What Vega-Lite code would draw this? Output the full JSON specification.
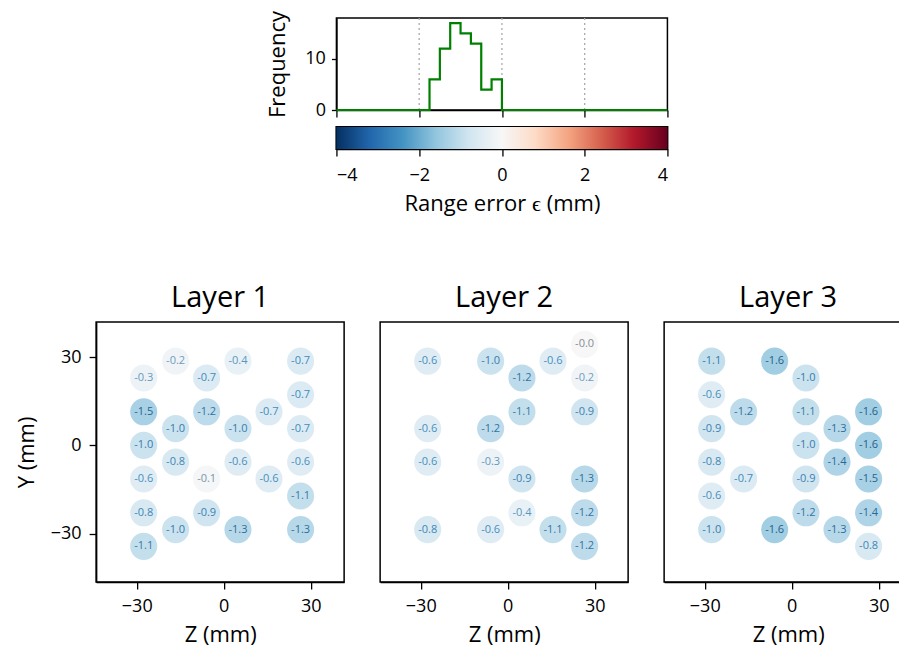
{
  "$schema": "https://vega.github.io/schema/vega-lite/v6.json",
  "padding": {"left": 14, "top": 9, "right": 0, "bottom": 0},
  "background": "white",
  "config": {
    "font": "Open Sans",
    "locale": {"number": {"decimal": ".", "thousands": ",", "grouping": [3], "currency": ["$", ""], "minus": "-"}},
    "view": {"stroke": "black", "strokeWidth": 1.5},
    "axis": {"labelFontSize": 18, "titleFontSize": 22, "labelColor": "black", "titleColor": "black", "titleFontWeight": "normal", "tickColor": "black", "domainColor": "black", "tickSize": 7, "tickWidth": 1.3, "domainWidth": 1.5, "labelPadding": 8, "grid": false, "labelFont": "Open Sans", "titleFont": "Open Sans"},
    "title": {"fontSize": 29, "fontWeight": "normal", "color": "black", "font": "Open Sans", "offset": 9}
  },
  "datasets": {
    "hist": [
      {"x": -4, "n": 0}, {"x": -1.75, "n": 6}, {"x": -1.5, "n": 12}, {"x": -1.25, "n": 17}, {"x": -1.0, "n": 15},
      {"x": -0.75, "n": 13}, {"x": -0.5, "n": 4}, {"x": -0.25, "n": 6}, {"x": 0, "n": 0}, {"x": 4, "n": 0}
    ],
    "grid": [{"x": -2}, {"x": 0}, {"x": 2}],
    "cbar": [{"lo": -4, "hi": 4}],
    "pts": [
      {"layer": 1, "z": -27.6, "y": 22.9, "e": -0.3}, {"layer": 1, "z": -27.6, "y": 11.4, "e": -1.5}, {"layer": 1, "z": -27.6, "y": 0, "e": -1.0},
      {"layer": 1, "z": -27.6, "y": -11.4, "e": -0.6}, {"layer": 1, "z": -27.6, "y": -22.9, "e": -0.8}, {"layer": 1, "z": -27.6, "y": -34.3, "e": -1.1},
      {"layer": 1, "z": -16.6, "y": 28.6, "e": -0.2}, {"layer": 1, "z": -16.6, "y": 5.7, "e": -1.0}, {"layer": 1, "z": -16.6, "y": -5.7, "e": -0.8}, {"layer": 1, "z": -16.6, "y": -28.6, "e": -1.0},
      {"layer": 1, "z": -5.9, "y": 22.9, "e": -0.7}, {"layer": 1, "z": -5.9, "y": 11.4, "e": -1.2}, {"layer": 1, "z": -5.9, "y": -11.4, "e": -0.1}, {"layer": 1, "z": -5.9, "y": -22.9, "e": -0.9},
      {"layer": 1, "z": 4.9, "y": 28.6, "e": -0.4}, {"layer": 1, "z": 4.9, "y": 5.7, "e": -1.0}, {"layer": 1, "z": 4.9, "y": -5.7, "e": -0.6}, {"layer": 1, "z": 4.9, "y": -28.6, "e": -1.3},
      {"layer": 1, "z": 15.6, "y": 11.4, "e": -0.7}, {"layer": 1, "z": 15.6, "y": -11.4, "e": -0.6},
      {"layer": 1, "z": 26.5, "y": 28.6, "e": -0.7}, {"layer": 1, "z": 26.5, "y": 17.2, "e": -0.7}, {"layer": 1, "z": 26.5, "y": 5.7, "e": -0.7},
      {"layer": 1, "z": 26.5, "y": -5.7, "e": -0.6}, {"layer": 1, "z": 26.5, "y": -17.2, "e": -1.1}, {"layer": 1, "z": 26.5, "y": -28.6, "e": -1.3},

      {"layer": 2, "z": -27.6, "y": 28.6, "e": -0.6}, {"layer": 2, "z": -27.6, "y": 5.7, "e": -0.6}, {"layer": 2, "z": -27.6, "y": -5.7, "e": -0.6}, {"layer": 2, "z": -27.6, "y": -28.6, "e": -0.8},
      {"layer": 2, "z": -5.9, "y": 28.6, "e": -1.0}, {"layer": 2, "z": -5.9, "y": 5.7, "e": -1.2}, {"layer": 2, "z": -5.9, "y": -5.7, "e": -0.3}, {"layer": 2, "z": -5.9, "y": -28.6, "e": -0.6},
      {"layer": 2, "z": 4.9, "y": 22.9, "e": -1.2}, {"layer": 2, "z": 4.9, "y": 11.4, "e": -1.1}, {"layer": 2, "z": 4.9, "y": -11.4, "e": -0.9}, {"layer": 2, "z": 4.9, "y": -22.9, "e": -0.4},
      {"layer": 2, "z": 15.6, "y": 28.6, "e": -0.6}, {"layer": 2, "z": 15.6, "y": -28.6, "e": -1.1},
      {"layer": 2, "z": 26.5, "y": 34.3, "e": -0.03}, {"layer": 2, "z": 26.5, "y": 22.9, "e": -0.2}, {"layer": 2, "z": 26.5, "y": 11.4, "e": -0.9},
      {"layer": 2, "z": 26.5, "y": -11.4, "e": -1.3}, {"layer": 2, "z": 26.5, "y": -22.9, "e": -1.2}, {"layer": 2, "z": 26.5, "y": -34.3, "e": -1.2},

      {"layer": 3, "z": -27.6, "y": 28.6, "e": -1.1}, {"layer": 3, "z": -27.6, "y": 17.2, "e": -0.6}, {"layer": 3, "z": -27.6, "y": 5.7, "e": -0.9},
      {"layer": 3, "z": -27.6, "y": -5.7, "e": -0.8}, {"layer": 3, "z": -27.6, "y": -17.2, "e": -0.6}, {"layer": 3, "z": -27.6, "y": -28.6, "e": -1.0},
      {"layer": 3, "z": -16.6, "y": 11.4, "e": -1.2}, {"layer": 3, "z": -16.6, "y": -11.4, "e": -0.7},
      {"layer": 3, "z": -5.9, "y": 28.6, "e": -1.6}, {"layer": 3, "z": -5.9, "y": -28.6, "e": -1.6},
      {"layer": 3, "z": 4.9, "y": 22.9, "e": -1.0}, {"layer": 3, "z": 4.9, "y": 11.4, "e": -1.1}, {"layer": 3, "z": 4.9, "y": 0, "e": -1.0},
      {"layer": 3, "z": 4.9, "y": -11.4, "e": -0.9}, {"layer": 3, "z": 4.9, "y": -22.9, "e": -1.2},
      {"layer": 3, "z": 15.6, "y": 5.7, "e": -1.3}, {"layer": 3, "z": 15.6, "y": -5.7, "e": -1.4}, {"layer": 3, "z": 15.6, "y": -28.6, "e": -1.3},
      {"layer": 3, "z": 26.5, "y": 11.4, "e": -1.6}, {"layer": 3, "z": 26.5, "y": 0, "e": -1.6}, {"layer": 3, "z": 26.5, "y": -11.4, "e": -1.5},
      {"layer": 3, "z": 26.5, "y": -22.9, "e": -1.4}, {"layer": 3, "z": 26.5, "y": -34.3, "e": -0.8}
    ]
  },
  "center": true,
  "spacing": 68,
  "vconcat": [
    {
      "spacing": 6,
      "vconcat": [
        {
          "width": 331,
          "height": 92,
          "layer": [
            {
              "data": {"name": "grid"},
              "mark": {"type": "rule", "strokeDash": [2, 3], "color": "#aaaaaa", "strokeWidth": 1.3},
              "encoding": {"x": {"field": "x", "type": "quantitative"}}
            },
            {
              "data": {"name": "hist"},
              "mark": {"type": "line", "interpolate": "step-after", "color": "#008000", "strokeWidth": 2.2},
              "encoding": {
                "x": {"field": "x", "type": "quantitative", "scale": {"domain": [-4, 4], "nice": false},
                      "axis": {"values": [-4, -2, 0, 2, 4], "labels": false, "title": null}},
                "y": {"field": "n", "type": "quantitative", "scale": {"domain": [0, 18], "nice": false},
                      "axis": {"values": [0, 10], "title": "Frequency", "tickSize": 5, "labelPadding": 6, "titlePadding": 15, "labelExpr": "replace(datum.label, '-', '−')"}}
              }
            }
          ]
        },
        {
          "width": 331,
          "height": 22,
          "view": {"stroke": "black", "strokeWidth": 2},
          "data": {"name": "cbar"},
          "mark": {"type": "rect", "fill": {"gradient": "linear", "x1": 0, "y1": 0, "x2": 1, "y2": 0,
            "stops": [
              {"offset": 0, "color": "#053061"}, {"offset": 0.1, "color": "#2166ac"}, {"offset": 0.2, "color": "#4393c3"},
              {"offset": 0.3, "color": "#92c5de"}, {"offset": 0.4, "color": "#d1e5f0"}, {"offset": 0.5, "color": "#f7f7f7"},
              {"offset": 0.6, "color": "#fddbc7"}, {"offset": 0.7, "color": "#f4a582"}, {"offset": 0.8, "color": "#d6604d"},
              {"offset": 0.9, "color": "#b2182b"}, {"offset": 1, "color": "#67001f"}
            ]}},
          "encoding": {
            "x": {"field": "lo", "type": "quantitative", "scale": {"domain": [-4, 4], "nice": false},
                  "axis": {"values": [-4, -2, 0, 2, 4], "title": "Range error ϵ (mm)", "labelPadding": 10, "titlePadding": 9, "labelExpr": "replace(datum.label, '-', '−')"}},
            "x2": {"field": "hi"}
          }
        }
      ]
    },
    {
      "spacing": 34,
      "hconcat": [
        {
          "title": "Layer 1",
          "width": 248, "height": 260,
          "data": {"name": "pts"},
          "transform": [{"filter": "datum.layer == 1"}],
          "encoding": {
            "x": {"field": "z", "type": "quantitative", "scale": {"domain": [-44, 41.5], "nice": false},
                  "axis": {"values": [-30, 0, 30], "title": "Z (mm)", "titlePadding": 9, "labelExpr": "replace(datum.label, '-', '−')"}},
            "y": {"field": "y", "type": "quantitative", "scale": {"domain": [-46.4, 41.9], "nice": false},
                  "axis": {"values": [-30, 0, 30], "title": "Y (mm)", "titlePadding": 12, "labelExpr": "replace(datum.label, '-', '−')"}}
          },
          "layer": [
            {"mark": {"type": "circle", "size": 735, "opacity": 0.85},
             "encoding": {"color": {"field": "e", "type": "quantitative", "legend": null,
               "scale": {"domain": [-4, -3.2, -2.4, -1.6, -0.8, 0, 0.8, 1.6, 2.4, 3.2, 4],
                         "range": ["#053061", "#2166ac", "#4393c3", "#92c5de", "#d1e5f0", "#f7f7f7", "#fddbc7", "#f4a582", "#d6604d", "#b2182b", "#67001f"]}}}},
            {"mark": {"type": "text", "fontSize": 11},
             "encoding": {"text": {"field": "e", "type": "quantitative", "format": "+.1f"},
               "fill": {"field": "e", "type": "quantitative", "legend": null,
                 "scale": {"domain": [-1.6, -1.2, -0.6, -0.2, 0], "range": ["#245f88", "#2f74a3", "#4590c0", "#6c9ec0", "#8a8a8a"]}}}}
          ]
        },
        {
          "title": "Layer 2",
          "width": 248, "height": 260,
          "data": {"name": "pts"},
          "transform": [{"filter": "datum.layer == 2"}],
          "encoding": {
            "x": {"field": "z", "type": "quantitative", "scale": {"domain": [-44, 41.5], "nice": false},
                  "axis": {"values": [-30, 0, 30], "title": "Z (mm)", "titlePadding": 9, "labelExpr": "replace(datum.label, '-', '−')"}},
            "y": {"field": "y", "type": "quantitative", "scale": {"domain": [-46.4, 41.9], "nice": false}, "axis": null}
          },
          "layer": [
            {"mark": {"type": "circle", "size": 735, "opacity": 0.85},
             "encoding": {"color": {"field": "e", "type": "quantitative", "legend": null,
               "scale": {"domain": [-4, -3.2, -2.4, -1.6, -0.8, 0, 0.8, 1.6, 2.4, 3.2, 4],
                         "range": ["#053061", "#2166ac", "#4393c3", "#92c5de", "#d1e5f0", "#f7f7f7", "#fddbc7", "#f4a582", "#d6604d", "#b2182b", "#67001f"]}}}},
            {"mark": {"type": "text", "fontSize": 11},
             "encoding": {"text": {"field": "e", "type": "quantitative", "format": "+.1f"},
               "fill": {"field": "e", "type": "quantitative", "legend": null,
                 "scale": {"domain": [-1.6, -1.2, -0.6, -0.2, 0], "range": ["#245f88", "#2f74a3", "#4590c0", "#6c9ec0", "#8a8a8a"]}}}}
          ]
        },
        {
          "title": "Layer 3",
          "width": 248, "height": 260,
          "data": {"name": "pts"},
          "transform": [{"filter": "datum.layer == 3"}],
          "encoding": {
            "x": {"field": "z", "type": "quantitative", "scale": {"domain": [-44, 41.5], "nice": false},
                  "axis": {"values": [-30, 0, 30], "title": "Z (mm)", "titlePadding": 9, "labelExpr": "replace(datum.label, '-', '−')"}},
            "y": {"field": "y", "type": "quantitative", "scale": {"domain": [-46.4, 41.9], "nice": false}, "axis": null}
          },
          "layer": [
            {"mark": {"type": "circle", "size": 735, "opacity": 0.85},
             "encoding": {"color": {"field": "e", "type": "quantitative", "legend": null,
               "scale": {"domain": [-4, -3.2, -2.4, -1.6, -0.8, 0, 0.8, 1.6, 2.4, 3.2, 4],
                         "range": ["#053061", "#2166ac", "#4393c3", "#92c5de", "#d1e5f0", "#f7f7f7", "#fddbc7", "#f4a582", "#d6604d", "#b2182b", "#67001f"]}}}},
            {"mark": {"type": "text", "fontSize": 11},
             "encoding": {"text": {"field": "e", "type": "quantitative", "format": "+.1f"},
               "fill": {"field": "e", "type": "quantitative", "legend": null,
                 "scale": {"domain": [-1.6, -1.2, -0.6, -0.2, 0], "range": ["#245f88", "#2f74a3", "#4590c0", "#6c9ec0", "#8a8a8a"]}}}}
          ]
        }
      ]
    }
  ]
}
